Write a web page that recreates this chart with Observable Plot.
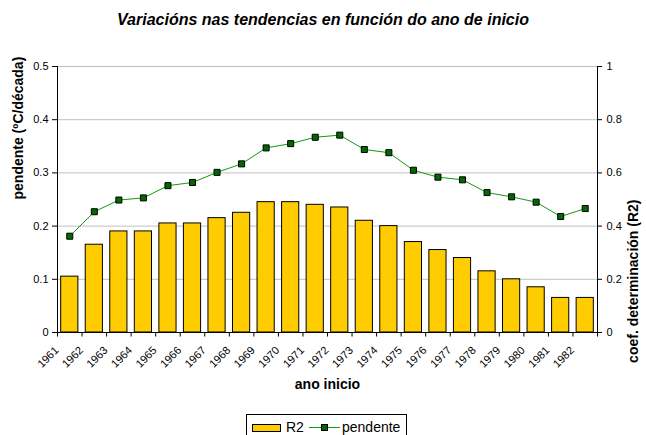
<!DOCTYPE html>
<html><head><meta charset="utf-8">
<script src="https://cdn.jsdelivr.net/npm/d3@7"></script>
<script src="https://cdn.jsdelivr.net/npm/@observablehq/plot@0.6"></script>
<style>
body{margin:0;background:#fff;font-family:"Liberation Sans",Arial,sans-serif;}
#wrap{position:relative;width:646px;height:435px;overflow:hidden;}
#title{position:absolute;left:0;top:11px;width:646px;text-align:center;font-weight:bold;font-style:italic;font-size:16px;color:#000;}
#chart{position:absolute;left:0;top:0;}
#legend{position:absolute;left:246px;top:414px;width:161px;height:24px;border:1px solid #000;box-sizing:border-box;font-size:14px;background:#fff;}
#legend svg{position:absolute;left:0;top:0;}
</style></head><body>
<div id="wrap">
<div id="chart"></div>
<div id="title">Variacións nas tendencias en función do ano de inicio</div>
<div id="legend"></div>
</div>
<script>
const years = [1961,1962,1963,1964,1965,1966,1967,1968,1969,1970,1971,1972,1973,1974,1975,1976,1977,1978,1979,1980,1981,1982];
const r2 = [0.21,0.33,0.38,0.38,0.41,0.41,0.43,0.45,0.49,0.49,0.48,0.47,0.42,0.40,0.34,0.31,0.28,0.23,0.20,0.17,0.13,0.13];
const pendente = [0.181,0.227,0.249,0.253,0.276,0.282,0.301,0.317,0.347,0.355,0.367,0.371,0.344,0.338,0.305,0.292,0.287,0.263,0.255,0.245,0.218,0.233];
const leftTicks = [0,0.1,0.2,0.3,0.4,0.5];
const rightTicks = [0,0.2,0.4,0.6,0.8,1];
const yLabel = "pendente (ºC/década)";
const y2Label = "coef. determinación (R2)";
const xLabel = "ano inicio";

const data = years.map((y,i)=>({year:String(y), r2:r2[i], pendente:pendente[i]}));
const W=646,H=435,mL=57,mR=49,mT=66,mB=103;
const step=(W-mL-mR)/years.length;
const ratio = 0.5; // left max / right max
const font="Liberation Sans, Arial, sans-serif";

const chart = Plot.plot({
  width:W, height:H, marginTop:mT, marginBottom:mB, marginLeft:mL, marginRight:mR,
  style:{fontFamily:font, fontSize:"11px", color:"#000", background:"transparent", overflow:"visible"},
  x:{type:"band", domain:data.map(d=>d.year), paddingInner:0.3, paddingOuter:0.15, round:false, axis:null},
  y:{domain:[0,0.5], axis:null},
  marks:[
    Plot.ruleY(leftTicks.slice(1), {stroke:"#c0c0c0", strokeWidth:1}),
    Plot.barY(data, {x:"year", y:d=>d.r2*ratio, fill:"#FFCC00", stroke:"#000", strokeWidth:1}),
    Plot.line(data, {x:"year", y:"pendente", stroke:"#129a12", strokeWidth:1}),
    Plot.dot(data, {x:"year", y:"pendente", symbol:"square", r:3.4, fill:"#006a00", stroke:"#000", strokeWidth:1}),
    Plot.ruleY([0], {stroke:"#000"}),
    Plot.ruleX([data[0].year], {dx:-step/2, y1:0, y2:0.5, stroke:"#000"}),
    Plot.ruleX([data[data.length-1].year], {dx:step/2, y1:0, y2:0.5, stroke:"#000"}),
    Plot.ruleX(data, {x:"year", dx:-step/2, y1:0, y2:-0.0085, stroke:"#000"}),
    Plot.ruleX([data[data.length-1].year], {dx:step/2, y1:0, y2:-0.0085, stroke:"#000"}),
    Plot.axisY({anchor:"left", ticks:leftTicks, tickFormat:d=>String(d), tickSize:5, tickPadding:4, label:null}),
    Plot.axisY({anchor:"right", ticks:rightTicks.map(v=>v*ratio), tickFormat:d=>String(+(d/ratio).toFixed(1)), tickSize:4, tickPadding:5, label:null}),
    Plot.axisX({anchor:"bottom", tickRotate:-45, tickSize:0, tickPadding:16, dx:-13, label:null}),
    Plot.text([yLabel], {frameAnchor:"left", dx:-39, rotate:-90, fontWeight:"bold", fontSize:14}),
    Plot.text([y2Label], {frameAnchor:"right", dx:36, rotate:-90, fontWeight:"bold", fontSize:14}),
    Plot.text([xLabel], {frameAnchor:"bottom", dy:56, fontWeight:"bold", fontSize:14})
  ]
});
document.getElementById("chart").appendChild(chart);

const lg = d3.select("#legend").append("svg").attr("width",161).attr("height",24);
lg.append("rect").attr("x",5.5).attr("y",9.5).attr("width",28).attr("height",7).attr("fill","#FFCC00").attr("stroke","#000");
lg.append("text").attr("x",39).attr("y",17).attr("font-size",14).attr("font-family",font).text("R2");
lg.append("line").attr("x1",62).attr("x2",93).attr("y1",12.5).attr("y2",12.5).attr("stroke","#129a12");
lg.append("rect").attr("x",74.5).attr("y",9.5).attr("width",6).attr("height",6).attr("fill","#006a00").attr("stroke","#000");
lg.append("text").attr("x",95).attr("y",17).attr("font-size",14).attr("font-family",font).text("pendente");
</script>
</body></html>
